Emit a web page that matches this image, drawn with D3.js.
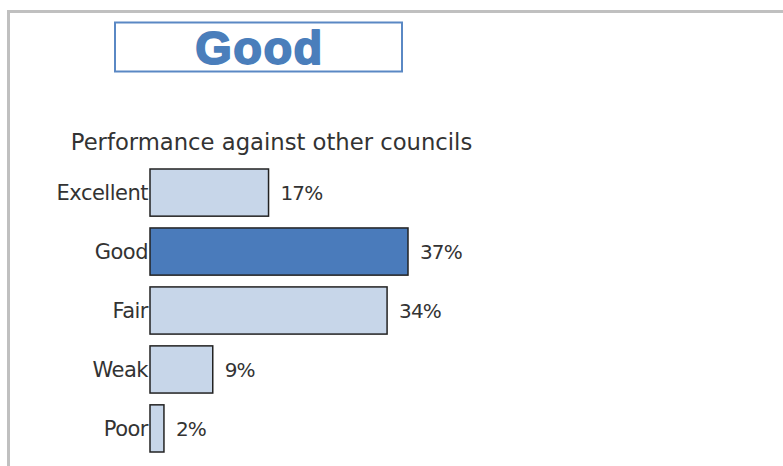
<!DOCTYPE html>
<html>
<head>
<meta charset="utf-8">
<script src="https://cdn.jsdelivr.net/npm/d3@7"></script>
<style>
  body { margin: 0; background: #fff; }
  svg { display: block; }
</style>
</head>
<body>
<div id="chart"></div>
<script>
var svgWidth = 783;
var svgHeight = 466;

// chart data
var ratingTitle = "Good";
var subtitle = "Performance against other councils";
var categories = ["Excellent", "Good", "Fair", "Weak", "Poor"];
var shares = [17, 37, 34, 9, 2];
var highlight = "Good";

var svg = d3.select("#chart")
  .append("svg")
  .attr("width", svgWidth)
  .attr("height", svgHeight);

// grey frame on top and left
svg.append("path")
  .attr("d", "M8.5,466 V11.5 H783")
  .attr("fill", "none")
  .attr("stroke", "#c0c0c0")
  .attr("stroke-width", 3);

// rating box
svg.append("rect")
  .attr("x", 115).attr("y", 22.5)
  .attr("width", 287).attr("height", 49)
  .attr("fill", "#fff")
  .attr("stroke", "#5a88c4")
  .attr("stroke-width", 2);

// heavy title, thickened with a stroke of the same colour
svg.append("text")
  .attr("x", 259.5).attr("y", 64)
  .attr("text-anchor", "middle")
  .attr("font-family", "Liberation Sans, Arial, sans-serif")
  .attr("font-weight", "bold")
  .attr("font-size", 47)
  .attr("letter-spacing", 1.4)
  .attr("fill", "#4a7ebb")
  .attr("stroke", "#4a7ebb")
  .attr("stroke-width", 1.8)
  .attr("stroke-linejoin", "round")
  .text(ratingTitle);

svg.append("text")
  .attr("x", 271.5).attr("y", 150)
  .attr("text-anchor", "middle")
  .attr("font-family", "DejaVu Sans, sans-serif")
  .attr("font-size", 22.7)
  .attr("fill", "#333")
  .text(subtitle);

var data = categories.map(function(c, i) { return { cat: c, value: shares[i] }; });

var xScale = d3.scaleLinear()
  .domain([0, 37])
  .range([0, 258]);

var yScale = d3.scaleBand()
  .domain(categories)
  .range([169, 452])
  .paddingInner(0.2)
  .paddingOuter(0);

var chartGroup = svg.append("g")
  .attr("transform", "translate(150, 0)");

chartGroup.selectAll("rect.bar")
  .data(data)
  .enter()
  .append("rect")
  .attr("class", "bar")
  .attr("x", 0)
  .attr("y", d => yScale(d.cat))
  .attr("width", d => xScale(d.value))
  .attr("height", yScale.bandwidth())
  .attr("fill", d => d.cat === highlight ? "#4a7bbb" : "#c7d6e9")
  .attr("stroke", "#222")
  .attr("stroke-width", 1.5);

// category labels
chartGroup.selectAll("text.cat")
  .data(data)
  .enter()
  .append("text")
  .attr("class", "cat")
  .attr("x", -2)
  .attr("y", d => yScale(d.cat) + yScale.bandwidth() / 2)
  .attr("dy", "0.36em")
  .attr("text-anchor", "end")
  .attr("font-family", "DejaVu Sans, sans-serif")
  .attr("font-size", 21)
  .attr("letter-spacing", -0.5)
  .attr("fill", "#333")
  .text(d => d.cat);

// value labels
chartGroup.selectAll("text.val")
  .data(data)
  .enter()
  .append("text")
  .attr("class", "val")
  .attr("x", d => xScale(d.value) + 12)
  .attr("y", d => yScale(d.cat) + yScale.bandwidth() / 2)
  .attr("dy", "0.36em")
  .attr("font-family", "DejaVu Sans, sans-serif")
  .attr("font-size", 20)
  .attr("letter-spacing", -0.9)
  .attr("fill", "#333")
  .text(d => d.value + "%");
</script>
</body>
</html>
